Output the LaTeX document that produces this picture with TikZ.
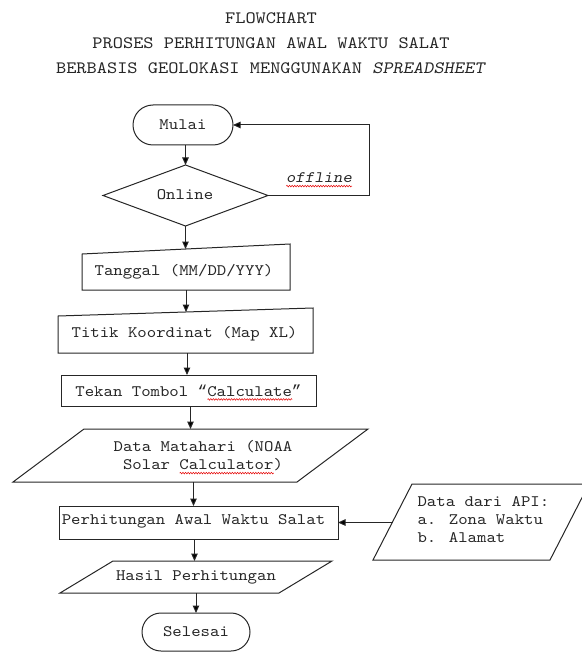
\documentclass[tikz,border=0pt]{standalone}
\usepackage{fontspec}
\setmainfont{lmmono10-regular.otf}[FakeStretch=1.12, ItalicFont=lmmonoslant10-regular.otf]
\newfontfamily\qfont{Liberation Mono}
\usetikzlibrary{arrows.meta,shapes.misc,calc,decorations.pathmorphing}
\newsavebox\splbox
\newcommand\spl[1]{\sbox\splbox{#1}\rlap{\smash{\tikz[baseline=0pt,x=1pt,y=1pt]\draw[red!90!black,line width=0.5pt,decorate,decoration={zigzag,amplitude=0.8pt,segment length=2.6pt}] (0,-3.2) -- (\the\wd\splbox,-3.2);}}\usebox\splbox}
\begin{document}
\begin{tikzpicture}[x=1pt,y=-1pt,
  every node/.style={font=\fontsize{16}{18}\selectfont, text=black!85},
  fr/.style 2 args={inner sep=0pt,outer sep=0pt,minimum width=#1,minimum height=#2},
  outline/.style={draw=black!85, line width=1pt},
  conn/.style={draw=black!85, line width=1pt, -{Triangle[width=6.5pt,length=7.5pt]}},
  ttl/.style={font=\fontsize{17.35}{20}\selectfont}]
\useasboundingbox (0,0) rectangle (581,652);

% title
\node[ttl] (t1) at (271,18) {FLOWCHART};
\node[ttl] (t2) at (271,43) {PROSES PERHITUNGAN AWAL WAKTU SALAT};
\node[ttl] (t3) at (271,68) {BERBASIS GEOLOKASI MENGGUNAKAN \textit{SPREADSHEET}};

% start
\node[rounded rectangle, outline, fr={100pt}{40pt}] (mulai) at (183,125) {Mulai};

% decision
\node[fr={165pt}{61pt}] (online) at (185.5,195.5) {};
\draw[outline] (online.north) -- (online.east) -- (online.south) -- (online.west) -- cycle;
\node (onlinet) at (185,195) {Online};

% manual input: tanggal
\node[fr={208pt}{46pt}] (tanggal) at (186,267) {};
\draw[outline] (tanggal.south west) -- (tanggal.south east) -- (tanggal.north east) -- ([yshift=-10pt]tanggal.north west) -- cycle;
\node (tanggalt) at (184,272) {Tanggal (MM/DD/YYY)};

% manual input: titik
\node[fr={255pt}{45pt}] (titik) at (185.5,330.5) {};
\draw[outline] (titik.south west) -- (titik.south east) -- (titik.north east) -- ([yshift=-8pt]titik.north west) -- cycle;
\node (titikt) at (184.5,334) {Titik Koordinat (Map XL)};

% process: tekan
\node[outline, fr={255pt}{31pt}] (tekan) at (188.5,390.5) {Tekan Tombol {\qfont “}\spl{Calculate}{\qfont ”}};

% data: matahari
\node[fr={355pt}{53pt}] (matahari) at (190.5,455.5) {};
\draw[outline] (matahari.south west) -- ([xshift=-71pt]matahari.south east) -- (matahari.north east) -- ([xshift=71pt]matahari.north west) -- cycle;
\node[align=center] (mataharit) at (203,456) {Data Matahari (NOAA\\Solar \spl{Calculator})};

% process: hitung
\node[outline, fr={279pt}{33pt}] (hitung) at (198.5,522.5) {};
\node (hitungt) at (193.5,521) {Perhitungan Awal Waktu Salat};

% data: hasil
\node[fr={272pt}{32pt}] (hasil) at (196,577) {};
\draw[outline] (hasil.south west) -- ([xshift=-53pt]hasil.south east) -- (hasil.north east) -- ([xshift=53pt]hasil.north west) -- cycle;
\node (hasilt) at (196,577) {Hasil Perhitungan};

% end
\node[rounded rectangle, outline, fr={108pt}{38pt}] (selesai) at (196,632) {Selesai};

% data: api
\node[fr={216pt}{76pt}] (api) at (481,522) {};
\draw[outline] (api.south west) -- ([xshift=-39pt]api.south east) -- (api.north east) -- ([xshift=39pt]api.north west) -- cycle;
\node[align=left, anchor=west] (apit) at (414,520) {Data dari API:\\a. Zona Waktu\\b. Alamat};
\coordinate (apiL) at ($(api.south west)!0.5!([xshift=39pt]api.north west)$);

% connectors
\draw[conn] (online.north |- mulai.south) -- (online.north);
\draw[conn] (online.south) -- ($(online.south |- tanggal.north)+(0,5)$);
\draw[conn] (tanggal.south) -- ($(tanggal.south |- titik.north)+(0,4)$);
\draw[conn] ([xshift=1.5pt]titik.south) -- ([xshift=1.5pt]titik.south |- tekan.north);
\draw[conn] ([xshift=2pt]tekan.south) -- ([xshift=2pt]tekan.south |- matahari.north);
\draw[conn] ([xshift=-5pt]hitung.north |- matahari.south) -- ([xshift=-5pt]hitung.north);
\draw[conn] ([xshift=-4pt]hitung.south) -- ([xshift=-4pt]hitung.south |- hasil.north);
\draw[conn] (hasil.south) -- (hasil.south |- selesai.north);
\draw[conn] (apiL |- hitung.east) -- (hitung.east);
\draw[conn] (online.east) -- ++(101,0) |- (mulai.east);
\node[font=\fontsize{16}{18}\selectfont\itshape] (offl) at (319,178) {\spl{offline}};
\end{tikzpicture}
\end{document}
